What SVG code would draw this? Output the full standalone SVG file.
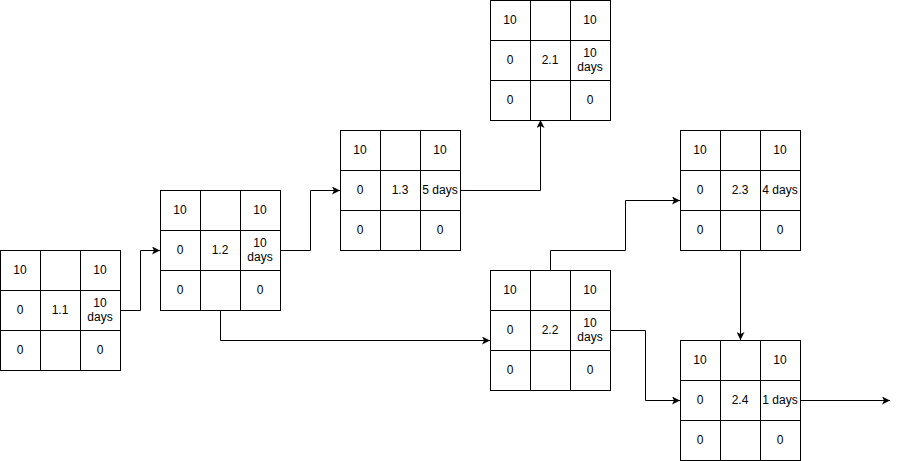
<svg xmlns="http://www.w3.org/2000/svg" width="899" height="461" viewBox="0 0 899 461">
<defs>
<style>
.c{fill:#fff;stroke:#000;stroke-width:1}
.t{font-family:"Liberation Sans",Arial,sans-serif;font-size:12px;fill:#000;text-anchor:middle}
.e{fill:none;stroke:#000;stroke-width:1}
</style>
<marker id="ah" viewBox="-8 -4 8 8" markerWidth="8" markerHeight="8" refX="0" refY="0" orient="auto" markerUnits="userSpaceOnUse">
<path d="M0,0 L-8,-4 L-6,0 L-8,4 Z" fill="#000"/>
</marker>
</defs>
<rect width="899" height="461" fill="#fff"/>
<g id="connectors">
<path class="e" d="M120,310.5 H140.5 V250.5 H160" marker-end="url(#ah)"/>
<path class="e" d="M280,250.5 H310.5 V190.5 H340" marker-end="url(#ah)"/>
<path class="e" d="M460,190.5 H540.5 V120" marker-end="url(#ah)"/>
<path class="e" d="M220.5,310 V340.5 H490" marker-end="url(#ah)"/>
<path class="e" d="M550.5,270 V250.5 H625.5 V200.5 H680" marker-end="url(#ah)"/>
<path class="e" d="M610,330.5 H645.5 V400.5 H680" marker-end="url(#ah)"/>
<path class="e" d="M740.5,250 V340" marker-end="url(#ah)"/>
<path class="e" d="M800,400.5 H890" marker-end="url(#ah)"/>
</g>
<g id="node-1.1">
<rect class="c" x="0.5" y="250.5" width="40" height="40"/><rect class="c" x="40.5" y="250.5" width="40" height="40"/><rect class="c" x="80.5" y="250.5" width="40" height="40"/>
<rect class="c" x="0.5" y="290.5" width="40" height="40"/><rect class="c" x="40.5" y="290.5" width="40" height="40"/><rect class="c" x="80.5" y="290.5" width="40" height="40"/>
<rect class="c" x="0.5" y="330.5" width="40" height="40"/><rect class="c" x="40.5" y="330.5" width="40" height="40"/><rect class="c" x="80.5" y="330.5" width="40" height="40"/>
<text class="t" x="20" y="274">10</text><text class="t" x="100" y="274">10</text>
<text class="t" x="20" y="314">0</text><text class="t" x="60" y="314">1.1</text>
<text class="t" x="100" y="307">10</text><text class="t" x="100" y="321">days</text>
<text class="t" x="20" y="354">0</text><text class="t" x="100" y="354">0</text>
</g>
<g id="node-1.2">
<rect class="c" x="160.5" y="190.5" width="40" height="40"/><rect class="c" x="200.5" y="190.5" width="40" height="40"/><rect class="c" x="240.5" y="190.5" width="40" height="40"/>
<rect class="c" x="160.5" y="230.5" width="40" height="40"/><rect class="c" x="200.5" y="230.5" width="40" height="40"/><rect class="c" x="240.5" y="230.5" width="40" height="40"/>
<rect class="c" x="160.5" y="270.5" width="40" height="40"/><rect class="c" x="200.5" y="270.5" width="40" height="40"/><rect class="c" x="240.5" y="270.5" width="40" height="40"/>
<text class="t" x="180" y="214">10</text><text class="t" x="260" y="214">10</text>
<text class="t" x="180" y="254">0</text><text class="t" x="220" y="254">1.2</text>
<text class="t" x="260" y="247">10</text><text class="t" x="260" y="261">days</text>
<text class="t" x="180" y="294">0</text><text class="t" x="260" y="294">0</text>
</g>
<g id="node-1.3">
<rect class="c" x="340.5" y="130.5" width="40" height="40"/><rect class="c" x="380.5" y="130.5" width="40" height="40"/><rect class="c" x="420.5" y="130.5" width="40" height="40"/>
<rect class="c" x="340.5" y="170.5" width="40" height="40"/><rect class="c" x="380.5" y="170.5" width="40" height="40"/><rect class="c" x="420.5" y="170.5" width="40" height="40"/>
<rect class="c" x="340.5" y="210.5" width="40" height="40"/><rect class="c" x="380.5" y="210.5" width="40" height="40"/><rect class="c" x="420.5" y="210.5" width="40" height="40"/>
<text class="t" x="360" y="154">10</text><text class="t" x="440" y="154">10</text>
<text class="t" x="360" y="194">0</text><text class="t" x="400" y="194">1.3</text>
<text class="t" x="440" y="194">5 days</text>
<text class="t" x="360" y="234">0</text><text class="t" x="440" y="234">0</text>
</g>
<g id="node-2.1">
<rect class="c" x="490.5" y="0.5" width="40" height="40"/><rect class="c" x="530.5" y="0.5" width="40" height="40"/><rect class="c" x="570.5" y="0.5" width="40" height="40"/>
<rect class="c" x="490.5" y="40.5" width="40" height="40"/><rect class="c" x="530.5" y="40.5" width="40" height="40"/><rect class="c" x="570.5" y="40.5" width="40" height="40"/>
<rect class="c" x="490.5" y="80.5" width="40" height="40"/><rect class="c" x="530.5" y="80.5" width="40" height="40"/><rect class="c" x="570.5" y="80.5" width="40" height="40"/>
<text class="t" x="510" y="24">10</text><text class="t" x="590" y="24">10</text>
<text class="t" x="510" y="64">0</text><text class="t" x="550" y="64">2.1</text>
<text class="t" x="590" y="57">10</text><text class="t" x="590" y="71">days</text>
<text class="t" x="510" y="104">0</text><text class="t" x="590" y="104">0</text>
</g>
<g id="node-2.2">
<rect class="c" x="490.5" y="270.5" width="40" height="40"/><rect class="c" x="530.5" y="270.5" width="40" height="40"/><rect class="c" x="570.5" y="270.5" width="40" height="40"/>
<rect class="c" x="490.5" y="310.5" width="40" height="40"/><rect class="c" x="530.5" y="310.5" width="40" height="40"/><rect class="c" x="570.5" y="310.5" width="40" height="40"/>
<rect class="c" x="490.5" y="350.5" width="40" height="40"/><rect class="c" x="530.5" y="350.5" width="40" height="40"/><rect class="c" x="570.5" y="350.5" width="40" height="40"/>
<text class="t" x="510" y="294">10</text><text class="t" x="590" y="294">10</text>
<text class="t" x="510" y="334">0</text><text class="t" x="550" y="334">2.2</text>
<text class="t" x="590" y="327">10</text><text class="t" x="590" y="341">days</text>
<text class="t" x="510" y="374">0</text><text class="t" x="590" y="374">0</text>
</g>
<g id="node-2.3">
<rect class="c" x="680.5" y="130.5" width="40" height="40"/><rect class="c" x="720.5" y="130.5" width="40" height="40"/><rect class="c" x="760.5" y="130.5" width="40" height="40"/>
<rect class="c" x="680.5" y="170.5" width="40" height="40"/><rect class="c" x="720.5" y="170.5" width="40" height="40"/><rect class="c" x="760.5" y="170.5" width="40" height="40"/>
<rect class="c" x="680.5" y="210.5" width="40" height="40"/><rect class="c" x="720.5" y="210.5" width="40" height="40"/><rect class="c" x="760.5" y="210.5" width="40" height="40"/>
<text class="t" x="700" y="154">10</text><text class="t" x="780" y="154">10</text>
<text class="t" x="700" y="194">0</text><text class="t" x="740" y="194">2.3</text>
<text class="t" x="780" y="194">4 days</text>
<text class="t" x="700" y="234">0</text><text class="t" x="780" y="234">0</text>
</g>
<g id="node-2.4">
<rect class="c" x="680.5" y="340.5" width="40" height="40"/><rect class="c" x="720.5" y="340.5" width="40" height="40"/><rect class="c" x="760.5" y="340.5" width="40" height="40"/>
<rect class="c" x="680.5" y="380.5" width="40" height="40"/><rect class="c" x="720.5" y="380.5" width="40" height="40"/><rect class="c" x="760.5" y="380.5" width="40" height="40"/>
<rect class="c" x="680.5" y="420.5" width="40" height="40"/><rect class="c" x="720.5" y="420.5" width="40" height="40"/><rect class="c" x="760.5" y="420.5" width="40" height="40"/>
<text class="t" x="700" y="364">10</text><text class="t" x="780" y="364">10</text>
<text class="t" x="700" y="404">0</text><text class="t" x="740" y="404">2.4</text>
<text class="t" x="780" y="404">1 days</text>
<text class="t" x="700" y="444">0</text><text class="t" x="780" y="444">0</text>
</g>
</svg>
